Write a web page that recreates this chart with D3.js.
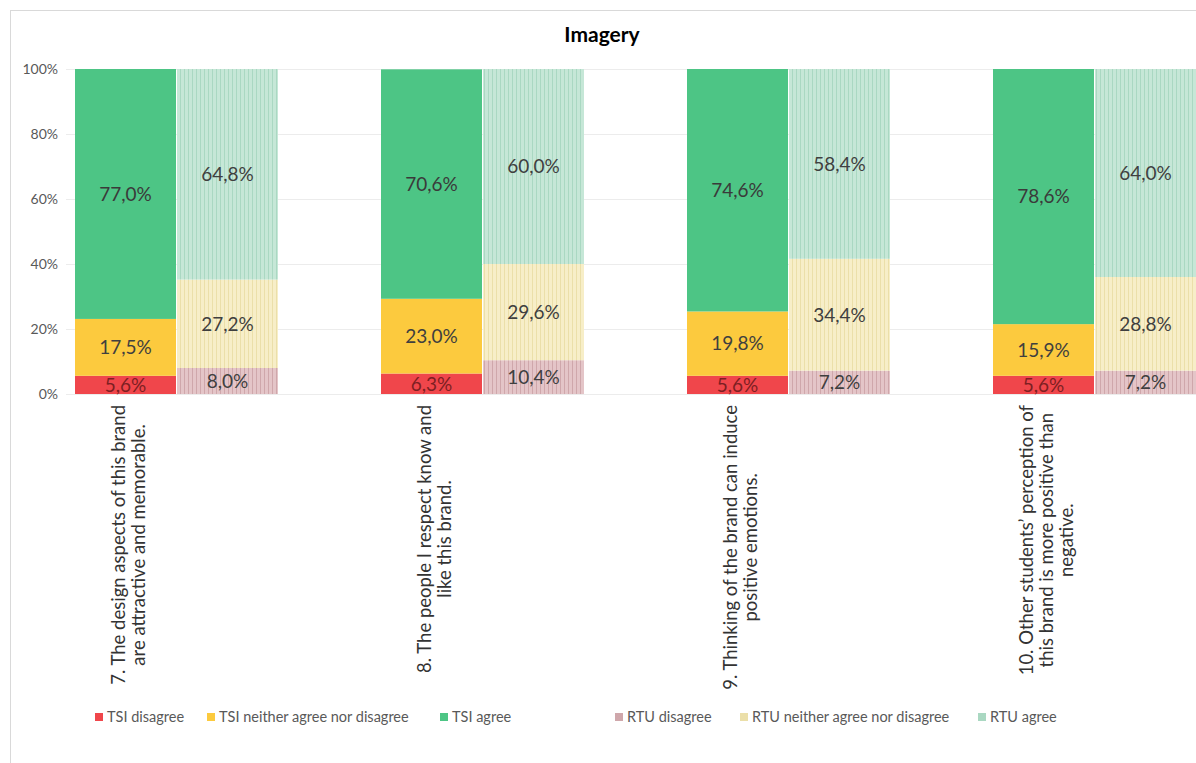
<!DOCTYPE html>
<html>
<head>
<meta charset="utf-8">
<script src="https://cdn.jsdelivr.net/npm/d3@7"></script>
<style>
  html, body { margin: 0; padding: 0; background: #fff; }
  svg { display: block; }
  text { font-family: Lato, "Open Sans", sans-serif; }
</style>
</head>
<body>
<svg id="chart" width="1196" height="763"></svg>
<script>
// ---------- data ----------
const title = "Imagery";
const categories = [
  ["7. The design aspects of this brand", "are attractive and memorable."],
  ["8. The people I respect know and", "like this brand."],
  ["9. Thinking of the brand can induce", "positive emotions."],
  ["10. Other students\u2019 perception of", "this brand is more positive than", "negative."]
];
const groups = ["TSI", "RTU"];
const tsiDisagree = [5.6, 6.3, 5.6, 5.6];
const tsiNeither  = [17.5, 23.0, 19.8, 15.9];
const tsiAgree    = [77.0, 70.6, 74.6, 78.6];
const rtuDisagree = [8.0, 10.4, 7.2, 7.2];
const rtuNeither  = [27.2, 29.6, 34.4, 28.8];
const rtuAgree    = [64.8, 60.0, 58.4, 64.0];
const yTicks = [0, 20, 40, 60, 80, 100];
const legendLabels = ["TSI disagree", "TSI neither agree nor disagree", "TSI agree",
                      "RTU disagree", "RTU neither agree nor disagree", "RTU agree"];

// ---------- styles / layout ----------
const seriesStyle = [
  {fill: "#f0464b", stripe: null, text: "#7d1f22"},
  {fill: "#fcca3e", stripe: null, text: "#3f3f3f"},
  {fill: "#4dc585", stripe: null, text: "#3a3a3a"},
  {fill: "#e4c5c8", stripe: "#cfa7ab", text: "#3f3f3f"},
  {fill: "#f7eec8", stripe: "#ebdfa9", text: "#3f3f3f"},
  {fill: "#c6e7d7", stripe: "#aad8c2", text: "#3f3f3f"}
];
const legendX = [95, 207, 440, 615, 740, 978];

const series = [
  {group: "TSI", values: tsiDisagree},
  {group: "TSI", values: tsiNeither},
  {group: "TSI", values: tsiAgree},
  {group: "RTU", values: rtuDisagree},
  {group: "RTU", values: rtuNeither},
  {group: "RTU", values: rtuAgree}
];

const svg = d3.select("#chart");
const defs = svg.append("defs");
seriesStyle.forEach((s, i) => {
  if (!s.stripe) return;
  const p = defs.append("pattern").attr("id", "pat" + i)
    .attr("patternUnits", "userSpaceOnUse").attr("width", 4).attr("height", 4);
  p.append("rect").attr("width", 4).attr("height", 4).attr("fill", s.fill);
  p.append("rect").attr("x", 0).attr("width", 1).attr("height", 4).attr("fill", s.stripe);
});
const fillOf = i => seriesStyle[i].stripe ? `url(#pat${i})` : seriesStyle[i].fill;

// frame
svg.append("rect").attr("x", 10.5).attr("y", 10.5).attr("width", 1200).attr("height", 800)
  .attr("fill", "#fff").attr("stroke", "#d9d9d9");

// title
svg.append("text").attr("x", 602).attr("y", 42).attr("text-anchor", "middle")
  .attr("font-size", 21).attr("font-weight", "bold").attr("fill", "#000").text(title);

// scales
const y = d3.scaleLinear().domain([0, 100]).range([394, 69]);
const x0 = d3.scaleBand().domain(d3.range(categories.length)).range([75, 1196])
  .paddingInner(1 - 203 / 306).paddingOuter(0);
const x1 = d3.scaleBand().domain(groups).range([0, x0.bandwidth()]).paddingInner(0.01);

// gridlines
svg.append("g").selectAll("line").data(yTicks).join("line")
  .attr("x1", 66).attr("x2", 1196)
  .attr("y1", d => Math.round(y(d)) + 0.5).attr("y2", d => Math.round(y(d)) + 0.5)
  .attr("stroke", "#ececec");

// y axis labels
const yAxis = d3.axisLeft(y).tickValues(yTicks).tickFormat(d => d + "%").tickSize(0).tickPadding(0);
const ya = svg.append("g").attr("transform", "translate(58,0)").call(yAxis);
ya.select(".domain").remove();
ya.selectAll("text").attr("font-size", 14).attr("fill", "#595959")
  .attr("font-family", "Lato, sans-serif");

// stacked bars
const barsG = svg.append("g");
series.forEach((s, si) => {
  const prev = series.slice(0, si).filter(t => t.group === s.group);
  s.values.forEach((v, ci) => {
    const base = d3.sum(prev, t => t.values[ci]);
    const top = Math.min(100, base + v);
    const bx = x0(ci) + x1(s.group);
    barsG.append("rect")
      .attr("x", bx).attr("width", x1.bandwidth())
      .attr("y", y(top)).attr("height", y(base) - y(top))
      .attr("fill", fillOf(si));
    barsG.append("text")
      .attr("x", bx + x1.bandwidth() / 2)
      .attr("y", (y(base) + y(top)) / 2)
      .attr("dy", "0.36em")
      .attr("text-anchor", "middle")
      .attr("font-size", 19)
      .attr("fill", seriesStyle[si].text)
      .text(v.toFixed(1).replace(".", ",") + "%");
  });
});

// x labels (rotated)
const lineH = 20;
categories.forEach((lines, ci) => {
  const cx = x0(ci) + x1("TSI") + x1.bandwidth() / 2 + 10;
  const g = svg.append("g");
  const texts = lines.map((ln, li) => g.append("text")
    .attr("font-size", 18.5).attr("fill", "#333").attr("text-anchor", "middle").text(ln));
  const maxW = d3.max(texts, t => t.node().getComputedTextLength());
  const n = lines.length;
  texts.forEach((t, li) => {
    const lx = cx + (li - (n - 1) / 2) * lineH;
    const ly = 405 + maxW / 2;
    t.attr("transform", `translate(${lx},${ly}) rotate(-90)`);
  });
});

// legend
const legendY = 717;
const legendG = svg.append("g");
legendLabels.forEach((lab, i) => {
  const lx = legendX[i];
  legendG.append("rect").attr("x", lx).attr("y", legendY - 4).attr("width", 8).attr("height", 8)
    .attr("fill", seriesStyle[i].stripe ? seriesStyle[i].stripe : seriesStyle[i].fill);
  legendG.append("text").attr("x", lx + 12).attr("y", legendY).attr("dy", "0.35em")
    .attr("font-size", 14.5).attr("fill", "#595959").text(lab);
});
</script>
</body>
</html>
